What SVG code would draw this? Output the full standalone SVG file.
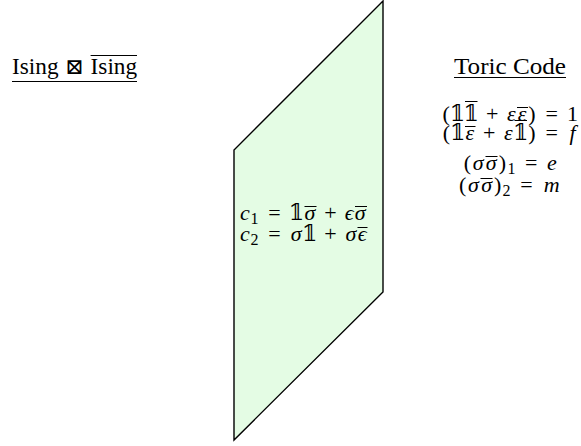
<svg xmlns="http://www.w3.org/2000/svg" width="581" height="446" viewBox="0 0 581 446">
<style>
text{font-family:"Liberation Serif","DejaVu Serif","DejaVu Sans",serif;fill:#000}
.t{font-size:23px}
.m{font-size:22px;text-anchor:middle}
.i{font-style:italic}
.s{font-size:16px}
.r{stroke:#000;stroke-width:1;fill:none}
.box{font-family:"DejaVu Serif","DejaVu Sans",serif;font-size:22px;text-anchor:middle}
</style>
<rect width="581" height="446" fill="#fff"/>
<g id="connectors"></g>
<g id="wall">
<polygon points="383,1 234,150 234,440 383,292" fill="#e4fce4" stroke="#000" stroke-width="1.4"/>
<text class="m"><tspan class="i" x="245" y="220">c</tspan><tspan class="s" x="254.5" y="224">1</tspan><tspan x="274.4" y="220">=</tspan><tspan x="296.5" y="220">𝟙</tspan><tspan class="i" x="309.9" y="220">σ</tspan><tspan x="330.4" y="220">+</tspan><tspan class="i" x="349.1" y="220">ϵ</tspan><tspan class="i" x="360.2" y="220">σ</tspan></text>
<text class="m"><tspan class="i" x="245" y="241">c</tspan><tspan class="s" x="254.5" y="245">2</tspan><tspan x="274.4" y="241">=</tspan><tspan class="i" x="296.2" y="241">σ</tspan><tspan x="309.6" y="241">𝟙</tspan><tspan x="330.4" y="241">+</tspan><tspan class="i" x="351" y="241">σ</tspan><tspan class="i" x="362.1" y="241">ϵ</tspan></text>
<path class="r" d="M304.5,206.5H316.5M355,206.5H367M357.5,227.5H367.5"/>
</g>
<g id="left">
<text class="t" x="12" y="74" textLength="46.5" lengthAdjust="spacingAndGlyphs">Ising</text>
<text class="box" x="74.5" y="74">⊠</text>
<text class="t" x="90.6" y="74" textLength="46.5" lengthAdjust="spacingAndGlyphs">Ising</text>
<path class="r" d="M90.6,55.5H137M12,81.5H137"/>
</g>
<g id="right">
<text class="t" x="454" y="74" textLength="112" lengthAdjust="spacingAndGlyphs">Toric Code</text>
<path class="r" d="M454,77.5H566"/>
<text class="m"><tspan x="446.2" y="121">(</tspan><tspan x="457.5" y="121">𝟙</tspan><tspan x="471.2" y="121">𝟙</tspan><tspan x="492.1" y="121">+</tspan><tspan class="i" x="511.4" y="121">ε</tspan><tspan class="i" x="522.1" y="121">ε</tspan><tspan x="531.9" y="121">)</tspan><tspan x="551.6" y="121">=</tspan><tspan x="572.6" y="121">1</tspan></text>
<text class="m"><tspan x="446.3" y="140">(</tspan><tspan x="457.6" y="140">𝟙</tspan><tspan class="i" x="469.8" y="140">ε</tspan><tspan x="489.1" y="140">+</tspan><tspan class="i" x="508.4" y="140">ε</tspan><tspan x="520.6" y="140">𝟙</tspan><tspan x="532" y="140">)</tspan><tspan x="551.7" y="140">=</tspan><tspan class="i" x="572.6" y="140">f</tspan></text>
<text class="m"><tspan x="467.3" y="170">(</tspan><tspan class="i" x="478.3" y="170">σ</tspan><tspan class="i" x="491.3" y="170">σ</tspan><tspan x="502.3" y="170">)</tspan><tspan class="s" x="511.4" y="174">1</tspan><tspan x="531.2" y="170">=</tspan><tspan class="i" x="551.8" y="170">e</tspan></text>
<text class="m"><tspan x="462.6" y="192">(</tspan><tspan class="i" x="473.5" y="192">σ</tspan><tspan class="i" x="486.6" y="192">σ</tspan><tspan x="497.6" y="192">)</tspan><tspan class="s" x="506.6" y="196">2</tspan><tspan x="526.5" y="192">=</tspan><tspan class="i" x="551.8" y="192">m</tspan></text>
<path class="r" d="M465,101.5H477.5M517,107.5H528M465,126.5H475.5M514.5,120.5H527M485.5,156.5H497.5M480.5,178.5H492.5"/>
</g>
</svg>
